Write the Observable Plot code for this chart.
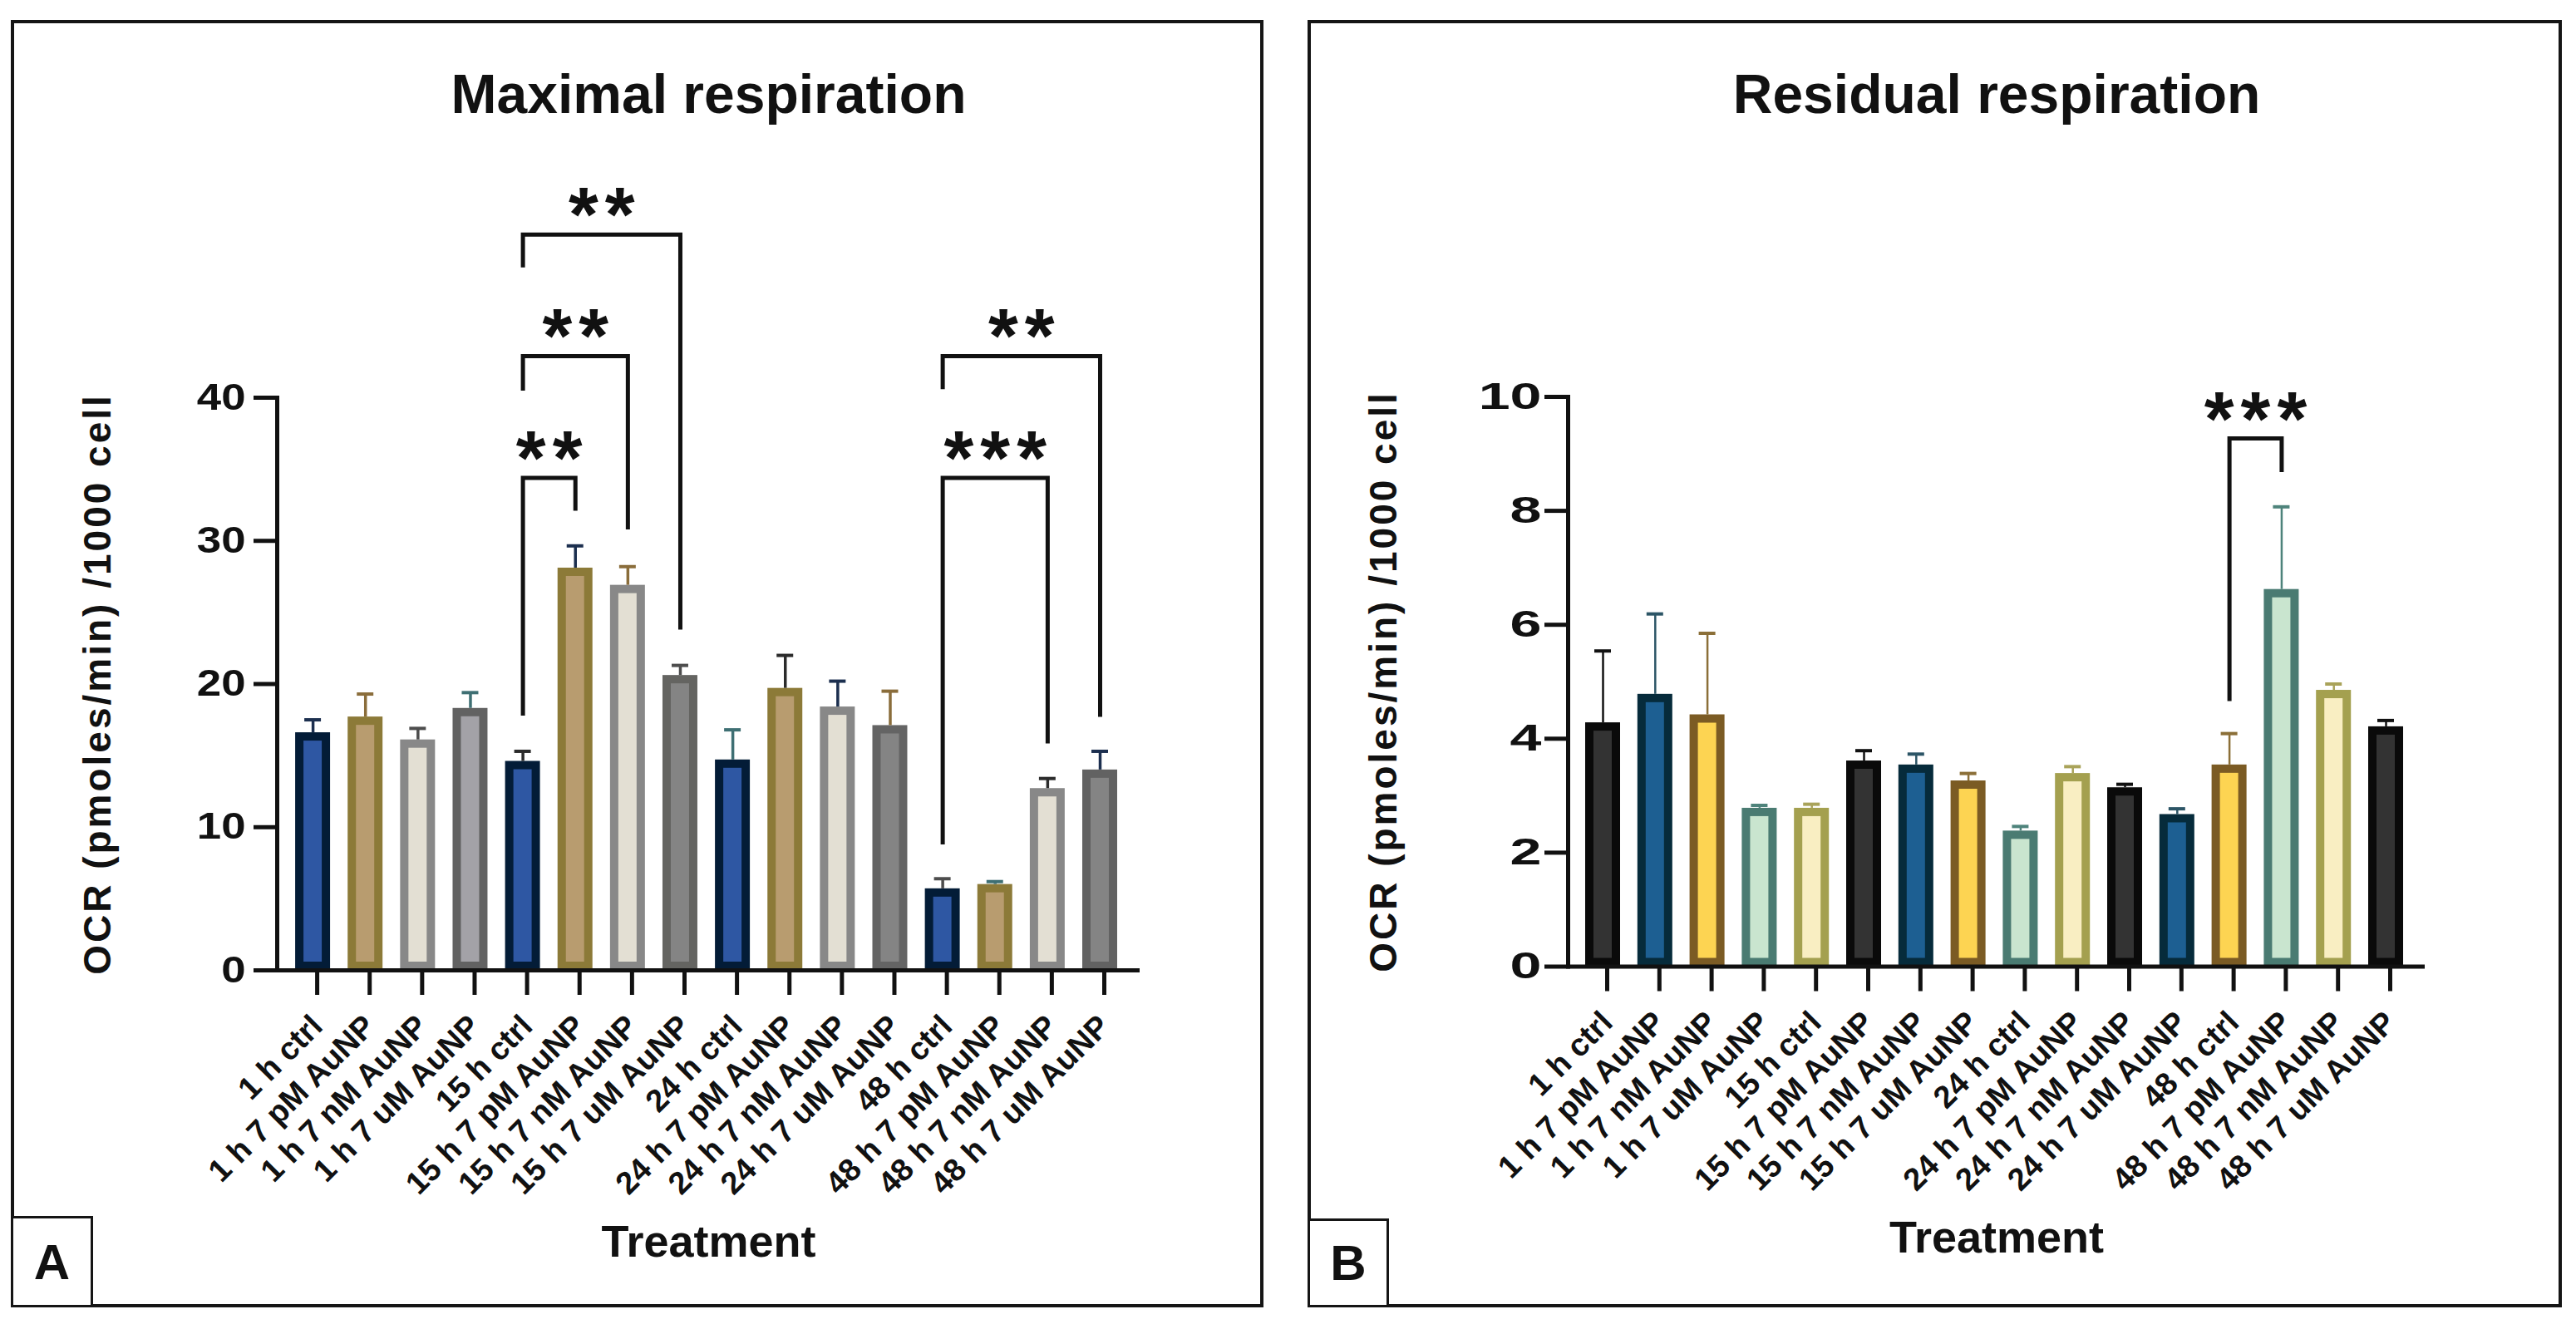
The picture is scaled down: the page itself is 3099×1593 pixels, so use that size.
<!DOCTYPE html>
<html>
<head>
<meta charset="utf-8">
<script src="https://cdn.jsdelivr.net/npm/d3@7"></script>
<script src="https://cdn.jsdelivr.net/npm/@observablehq/plot@0.6"></script>
<style>
  html, body { margin: 0; padding: 0; background: #fff; }
  body { width: 3099px; height: 1593px; position: relative; overflow: hidden;
         font-family: "Liberation Sans", Arial, sans-serif; }
  .panel { position: absolute; border: 4px solid #151515; box-sizing: border-box; }
  .tag { position: absolute; border: 3px solid #151515; box-sizing: border-box; background: #fff;
         font-weight: bold; font-size: 60px; display: flex; align-items: center; justify-content: center; color: #111; }
  .ylab { position: absolute; white-space: nowrap; font-weight: bold; font-size: 46px; letter-spacing: 3px;
          color: #111; transform: translate(-50%, -50%) rotate(-90deg); line-height: 1; }
</style>
</head>
<body>
<script>
// ---------------- data ----------------
const categories = [
  "1 h ctrl", "1 h 7 pM AuNP", "1 h 7 nM AuNP", "1 h 7 uM AuNP",
  "15 h ctrl", "15 h 7 pM AuNP", "15 h 7 nM AuNP", "15 h 7 uM AuNP",
  "24 h ctrl", "24 h 7 pM AuNP", "24 h 7 nM AuNP", "24 h 7 uM AuNP",
  "48 h ctrl", "48 h 7 pM AuNP", "48 h 7 nM AuNP", "48 h 7 uM AuNP"
];
const maximalMean = [16.6, 17.7, 16.1, 18.3, 14.6, 28.1, 26.9, 20.6, 14.7, 19.7, 18.4, 17.1, 5.7, 6.0, 12.7, 14.0];
const maximalSem  = [0.9, 1.6, 0.8, 1.1, 0.7, 1.55, 1.3, 0.7, 2.1, 2.3, 1.8, 2.4, 0.7, 0.2, 0.7, 1.3];
const residualMean = [4.28, 4.78, 4.42, 2.78, 2.78, 3.61, 3.54, 3.26, 2.38, 3.39, 3.14, 2.67, 3.54, 6.62, 4.85, 4.21];
const residualSem  = [1.26, 1.41, 1.43, 0.05, 0.07, 0.18, 0.19, 0.13, 0.08, 0.12, 0.06, 0.10, 0.55, 1.45, 0.11, 0.11];
const maximalTicks = [0, 10, 20, 30, 40];
const residualTicks = [0, 2, 4, 6, 8, 10];
const maximalBrackets = [
  {from: "15 h ctrl", to: "15 h 7 pM AuNP", top: 34.4, fromEnd: 17.8, toEnd: 32.1, stars: "**", starY: 37.0},
  {from: "15 h ctrl", to: "15 h 7 nM AuNP", top: 42.9, fromEnd: 40.5, toEnd: 30.8, stars: "**", starY: 45.5},
  {from: "15 h ctrl", to: "15 h 7 uM AuNP", top: 51.4, fromEnd: 49.1, toEnd: 23.8, stars: "**", starY: 54.0},
  {from: "48 h ctrl", to: "48 h 7 nM AuNP", top: 34.4, fromEnd: 8.8, toEnd: 15.85, stars: "***", starY: 37.0},
  {from: "48 h ctrl", to: "48 h 7 uM AuNP", top: 42.9, fromEnd: 40.6, toEnd: 17.7, stars: "**", starY: 45.5}
];
const residualBrackets = [
  {from: "48 h ctrl", to: "48 h 7 pM AuNP", top: 9.27, fromEnd: 4.66, toEnd: 8.68, stars: "***", starY: 9.91}
];

// ---------------- styles ----------------
const maximalFill = ["#2e57a3","#b89c6f","#e3dfd3","#a3a2a7","#2e57a3","#b89c6f","#e3dfd3","#848484",
                     "#2e57a3","#b89c6f","#e3dfd3","#848484","#2e57a3","#b89c6f","#e3dfd3","#848484"];
const maximalStroke = ["#031c37","#8c7a38","#888888","#626262","#031c37","#8c7a38","#888888","#646461",
                       "#031c37","#8c7a38","#888888","#646464","#031c37","#8c7a38","#888888","#626262"];
const maximalErr = ["#1c2f4f","#8a6d3b","#4d4d4d","#3e6f73","#2b2b2b","#1c2f4f","#8a6d3b","#4d4d4d",
                    "#3e6f73","#2b2b2b","#1c2f4f","#8a6d3b","#4d4d4d","#3e6f73","#2b2b2b","#1c2f4f"];
const residualFill = ["#333333","#1d5f92","#fdd452","#c9e5cf","#f9eec2","#333333","#1d5f92","#fdd452",
                      "#c9e5cf","#f9eec2","#333333","#1d5f92","#fdd452","#c9e5cf","#f9eec2","#333333"];
const residualStroke = ["#0a0a0a","#062b3b","#7b5b24","#4a7b72","#a4a04f","#0a0a0a","#062b3b","#7b5b24",
                        "#4a7b72","#a4a04f","#0a0a0a","#062b3b","#7b5b24","#4a7b72","#a4a04f","#0a0a0a"];
const residualErr = ["#111111","#2c5566","#8b6f38","#4e837b","#a9a35a","#111111","#2c5566","#8b6f38",
                     "#4e837b","#a9a35a","#111111","#2c5566","#8b6f38","#4e837b","#a9a35a","#111111"];

const FONT = "Liberation Sans, Arial, sans-serif";
const H = 1593;
const yLabelText = "OCR (pmoles/min) /1000 cell";

function box(cls, l, t, w, h, txt) {
  const d = document.createElement("div");
  d.className = cls;
  Object.assign(d.style, {left: l + "px", top: t + "px"});
  if (w != null) d.style.width = w + "px";
  if (h != null) d.style.height = h + "px";
  if (txt) d.textContent = txt;
  document.body.append(d);
  return d;
}
box("panel", 13, 24, 1507, 1549);
box("panel", 1573, 24, 1509, 1549);
box("tag", 13, 1463, 99, 110, "A");
box("tag", 1573, 1466, 98, 107, "B");

function makePanel(cfg) {
  const rows = categories.map((c, i) => ({
    cat: c, mean: cfg.mean[i], upper: cfg.mean[i] + cfg.sem[i],
    fill: cfg.fills[i], stroke: cfg.strokes[i], err: cfg.errs[i]
  }));
  const marginLeft = cfg.axisLeft - cfg.left;
  const marginRight = cfg.left + cfg.width - cfg.axisRight;
  const marginTop = cfg.yTop;
  const marginBottom = H - cfg.yZero;
  const xOpts = {type: "band", domain: categories, paddingInner: cfg.pi, paddingOuter: cfg.po, align: cfg.align, round: false};
  const xs = Plot.scale({x: {...xOpts, range: [marginLeft, cfg.width - marginRight]}});
  const pts = cfg.brackets.flatMap((b, i) => [
    {id: i, x: b.from, y: b.fromEnd}, {id: i, x: b.from, y: b.top},
    {id: i, x: b.to, y: b.top}, {id: i, x: b.to, y: b.toEnd}
  ]);
  const starSize = 92;
  const starMarks = cfg.brackets.map(b => Plot.text([b], {
    x: "from", y: "starY", text: "stars",
    dx: (xs.apply(b.to) - xs.apply(b.from)) / 2 + 4, dy: 0.57 * starSize,
    lineAnchor: "bottom", fontSize: starSize, fontWeight: "bold", fill: "#111"
  }));
  const svg = Plot.plot({
    width: cfg.width, height: H,
    marginLeft, marginRight, marginTop, marginBottom,
    x: xOpts,
    y: {domain: [0, cfg.yMax]},
    color: {type: "identity"},
    style: {fontFamily: FONT, color: "#111", background: "transparent", overflow: "visible", maxWidth: "none"},
    marks: [
      Plot.barY(rows, {x: "cat", y: "mean", fill: "fill", stroke: "stroke", strokeWidth: 10,
        insetLeft: 5, insetRight: 5, insetTop: 5, insetBottom: 5}),
      Plot.ruleX(rows, {x: "cat", y1: "mean", y2: "upper", stroke: "err", strokeWidth: cfg.errW}),
      Plot.tickY(rows, {x: "cat", y: "upper", stroke: "err", strokeWidth: 4, insetLeft: 11, insetRight: 11}),
      Plot.frame({anchor: "left", strokeWidth: 5}),
      Plot.ruleY([0], {strokeWidth: 5}),
      Plot.axisY({ticks: cfg.ticks, tickSize: 28, tickPadding: cfg.tickPad, fontSize: 44, fontWeight: "bold",
        strokeWidth: 5, label: null}),
      Plot.axisX({tickSize: 30, tickPadding: 31, tickRotate: -45, textAnchor: "end", lineAnchor: "middle",
        dx: 5, fontSize: 38, fontWeight: "bold", strokeWidth: 5, label: null}),
      Plot.line(pts, {x: "x", y: "y", z: "id", stroke: "#111", strokeWidth: 5,
        strokeLinejoin: "miter", strokeLinecap: "butt", strokeMiterlimit: 10, curve: "linear"}),
      ...starMarks,
      Plot.text([cfg.title], {frameAnchor: "top", dy: 135 - cfg.yTop, lineAnchor: "bottom",
        fontSize: 66, fontWeight: "bold", text: d => d, fill: "#111"}),
      Plot.text(["Treatment"], {frameAnchor: "bottom", dy: cfg.xLabelBase - cfg.yZero, lineAnchor: "bottom",
        fontSize: 54, fontWeight: "bold", text: d => d, fill: "#111"})
    ]
  });
  Object.assign(svg.style, {position: "absolute", left: cfg.left + "px", top: "0px"});
  const root = d3.select(svg);
  // reference y tick digits are drawn wider than the rest of the text
  root.selectAll('g[aria-label="y-axis tick label"] text').each(function () {
    const t = this.getAttribute("transform") || "";
    const x = +this.getAttribute("x") || 0, y = +this.getAttribute("y") || 0;
    this.setAttribute("transform", `${t} translate(${x},${y}) scale(${cfg.tickStretch},1) translate(${-x},${-y})`);
  });
  root.selectAll("text").filter(function () { return /^\*+$/.test(this.textContent); })
    .style("letter-spacing", "8px");
  document.body.append(svg);
  box("ylab", cfg.yLabelX, (cfg.yTop + cfg.yZero) / 2, null, null, yLabelText);
}

makePanel({
  left: 0, width: 1545, axisLeft: 333, axisRight: 1371, yTop: 478, yZero: 1167, yMax: 40,
  pi: 0.335, po: 0.389, align: 0.45, tickPad: 10, errW: 3.5, tickStretch: 1.2,
  mean: maximalMean, sem: maximalSem, ticks: maximalTicks, brackets: maximalBrackets,
  fills: maximalFill, strokes: maximalStroke, errs: maximalErr,
  title: "Maximal respiration", xLabelBase: 1511, yLabelX: 117
});
makePanel({
  left: 1545, width: 1554, axisLeft: 1886, axisRight: 2917, yTop: 477, yZero: 1162.5, yMax: 10,
  pi: 0.331, po: 0.374, align: 0.447, tickPad: 4, errW: 2.5, tickStretch: 1.55,
  mean: residualMean, sem: residualSem, ticks: residualTicks, brackets: residualBrackets,
  fills: residualFill, strokes: residualStroke, errs: residualErr,
  title: "Residual respiration", xLabelBase: 1506, yLabelX: 1664
});
</script>
</body>
</html>
